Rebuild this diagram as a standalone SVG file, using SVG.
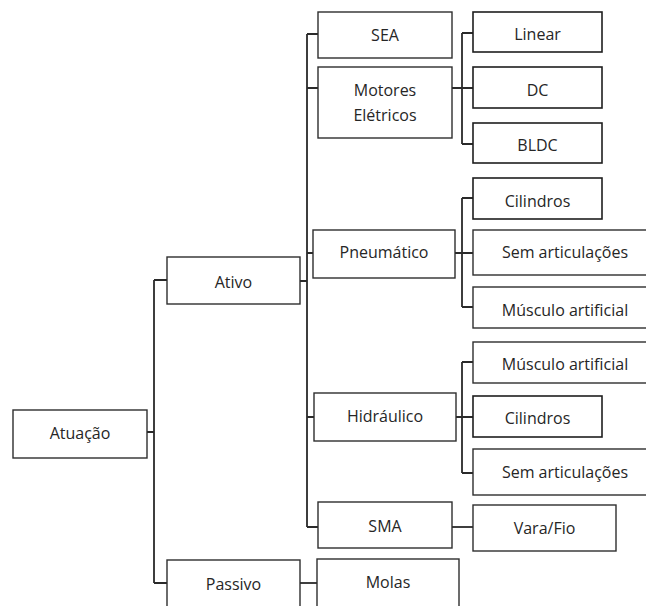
<svg xmlns="http://www.w3.org/2000/svg" width="646" height="606" viewBox="0 0 646 606">
<style>
.b{fill:#fff;stroke:#2e2e2e;stroke-width:1.4}
.s{fill:#fff;stroke:#1e1e1e;stroke-width:1.6}
.t{font-family:"Open Sans","Noto Sans",sans-serif;font-size:16px;fill:#262626;text-anchor:middle}
.c{fill:none;stroke:#2a2a2a;stroke-width:1.8}
</style>
<rect width="646" height="606" fill="#fff"/>
<g id="connectors" class="c">
<path d="M147,432H154M154,280V583M154,280H167M154,583H167"/>
<path d="M300,281H307M307,34V527M307,34H318M307,88H318M307,253H313M307,417H314M307,527H318"/>
<path d="M300,583H317"/>
<path d="M452,88H473M462,33V144M462,33H473M462,144H473"/>
<path d="M455,253H473M462,198V307M462,198H473M462,307H473"/>
<path d="M456,417H473M462,362V473M462,362H473M462,473H473"/>
<path d="M452,527H473"/>
</g>
<g id="atuacao"><rect class="b" x="13" y="410" width="134" height="48"/><text class="t" x="80" y="439">Atuação</text></g>
<g id="ativo"><rect class="b" x="167" y="257" width="133" height="47"/><text class="t" x="233.5" y="288">Ativo</text></g>
<g id="passivo"><rect class="b" x="167" y="560" width="133" height="60"/><text class="t" x="233.5" y="590">Passivo</text></g>
<g id="sea"><rect class="b" x="318" y="12" width="134" height="46"/><text class="t" x="385" y="41">SEA</text></g>
<g id="motores"><rect class="b" x="318" y="67" width="134" height="71"/><text class="t" x="385" y="96">Motores</text><text class="t" x="385" y="121">Elétricos</text></g>
<g id="linear"><rect class="s" x="473" y="12" width="129" height="40"/><text class="t" x="537.5" y="40">Linear</text></g>
<g id="dc"><rect class="s" x="473" y="67" width="129" height="41"/><text class="t" x="537.5" y="96">DC</text></g>
<g id="bldc"><rect class="s" x="473" y="123" width="129" height="40"/><text class="t" x="537.5" y="151">BLDC</text></g>
<g id="pneumatico"><rect class="b" x="313" y="230" width="142" height="48"/><text class="t" x="384" y="258">Pneumático</text></g>
<g id="cilindros-p"><rect class="s" x="473" y="178" width="129" height="41"/><text class="t" x="537.5" y="207">Cilindros</text></g>
<g id="sem-articulacoes-p"><rect class="b" x="473" y="230" width="190" height="45"/><text class="t" x="565" y="258">Sem articulações</text></g>
<g id="musculo-p"><rect class="b" x="473" y="287" width="190" height="41"/><text class="t" x="565" y="316">Músculo artificial</text></g>
<g id="hidraulico"><rect class="b" x="314" y="393" width="142" height="48"/><text class="t" x="385" y="422">Hidráulico</text></g>
<g id="musculo-h"><rect class="b" x="473" y="342" width="190" height="41"/><text class="t" x="565" y="370">Músculo artificial</text></g>
<g id="cilindros-h"><rect class="s" x="473" y="396" width="129" height="41"/><text class="t" x="537.5" y="424">Cilindros</text></g>
<g id="sem-articulacoes-h"><rect class="b" x="473" y="449" width="190" height="46"/><text class="t" x="565" y="478">Sem articulações</text></g>
<g id="sma"><rect class="b" x="318" y="502" width="134" height="46"/><text class="t" x="385" y="532">SMA</text></g>
<g id="vara-fio"><rect class="b" x="473" y="505" width="143" height="46"/><text class="t" x="544.5" y="534">Vara/Fio</text></g>
<g id="molas"><rect class="b" x="317" y="559" width="142" height="60"/><text class="t" x="388" y="588">Molas</text></g>
</svg>
